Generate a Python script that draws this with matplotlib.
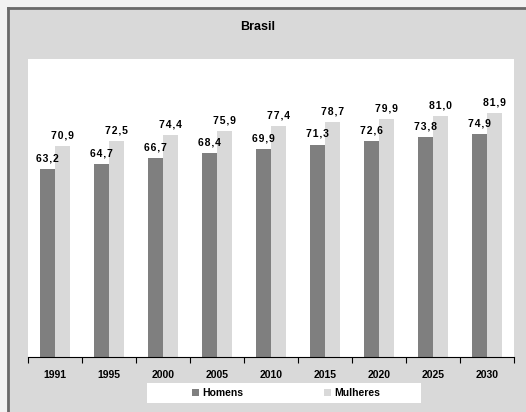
import matplotlib.pyplot as plt
import numpy as np
from matplotlib.patches import Rectangle
from matplotlib.lines import Line2D

plt.rcParams['font.family'] = ['Liberation Sans', 'DejaVu Sans']

# Esperança de vida ao nascer, Brasil
anos = ["1991", "1995", "2000", "2005", "2010", "2015", "2020", "2025", "2030"]
homens = [63.2, 64.7, 66.7, 68.4, 69.9, 71.3, 72.6, 73.8, 74.9]
mulheres = [70.9, 72.5, 74.4, 75.9, 77.4, 78.7, 79.9, 81.0, 81.9]

W, H = 526, 412
fig = plt.figure(figsize=(W / 100, H / 100), dpi=100, facecolor="#f2f2f2")

# moldura cinza da área do gráfico
fig.patches.append(Rectangle((7 / W, 0), 1, 1 - 7 / H, transform=fig.transFigure,
                             fc="#d9d9d9", ec="none", zorder=-2))
fig.lines.append(Line2D([8 / W, 8 / W], [0, 1 - 8 / H], transform=fig.transFigure,
                        color="#6a6a6a", lw=2, zorder=-1))
fig.lines.append(Line2D([8 / W, 1], [1 - 8 / H, 1 - 8 / H], transform=fig.transFigure,
                        color="#6a6a6a", lw=2, zorder=-1))

ax = fig.add_axes([28 / W, (H - 357) / H, (514 - 28) / W, (357 - 59) / H])
ax.set_facecolor("white")

x = np.arange(len(anos))
b1 = ax.bar(x - 0.145, homens, width=0.28, color="#7f7f7f", label="Homens")
b2 = ax.bar(x + 0.145, mulheres, width=0.28, color="#d9d9d9", label="Mulheres")

# rótulos com vírgula decimal e letras um pouco espaçadas
fmt = lambda v: "\u200a".join(f"{v:.1f}".replace(".", ","))
ax.bar_label(b1, labels=[fmt(v) for v in homens], padding=4, fontsize=7.5, fontweight="bold")
ax.bar_label(b2, labels=[fmt(v) for v in mulheres], padding=4, fontsize=7.5, fontweight="bold")

ax.set_xlim(-0.5, len(anos) - 0.5)
ax.set_ylim(0, 100)
for s in ["left", "right", "top"]:
    ax.spines[s].set_visible(False)
ax.spines["bottom"].set_color("black")
ax.set_yticks([])

ax.set_xticks(np.arange(len(anos) + 1) - 0.5)
ax.set_xticklabels([])
ax.tick_params(axis="x", which="major", length=4, direction="out", color="black")
ax.set_xticks(x, minor=True)
ax.set_xticklabels(anos, minor=True, fontsize=7.5, fontweight="bold")
ax.tick_params(axis="x", which="minor", length=0, pad=9)

fig.text(258 / W, 1 - 27 / H, "Brasil", ha="center", va="center",
         fontsize=9, fontweight="bold")

# caixa da legenda
fig.patches.append(Rectangle((147 / W, (H - 403) / H), (421 - 147) / W, 20 / H,
                             transform=fig.transFigure, fc="white", ec="none", zorder=1))
leg = fig.legend(handles=[b1, b2], loc="center", bbox_to_anchor=(286 / W, (H - 393) / H),
                 ncol=2, frameon=False, handlelength=0.68, handleheight=0.68,
                 handletextpad=0.3, columnspacing=7.8, borderpad=0,
                 prop={"size": 7.5, "weight": "bold"})
leg.set_zorder(2)

fig.savefig("out.png", dpi=100, facecolor=fig.get_facecolor())
